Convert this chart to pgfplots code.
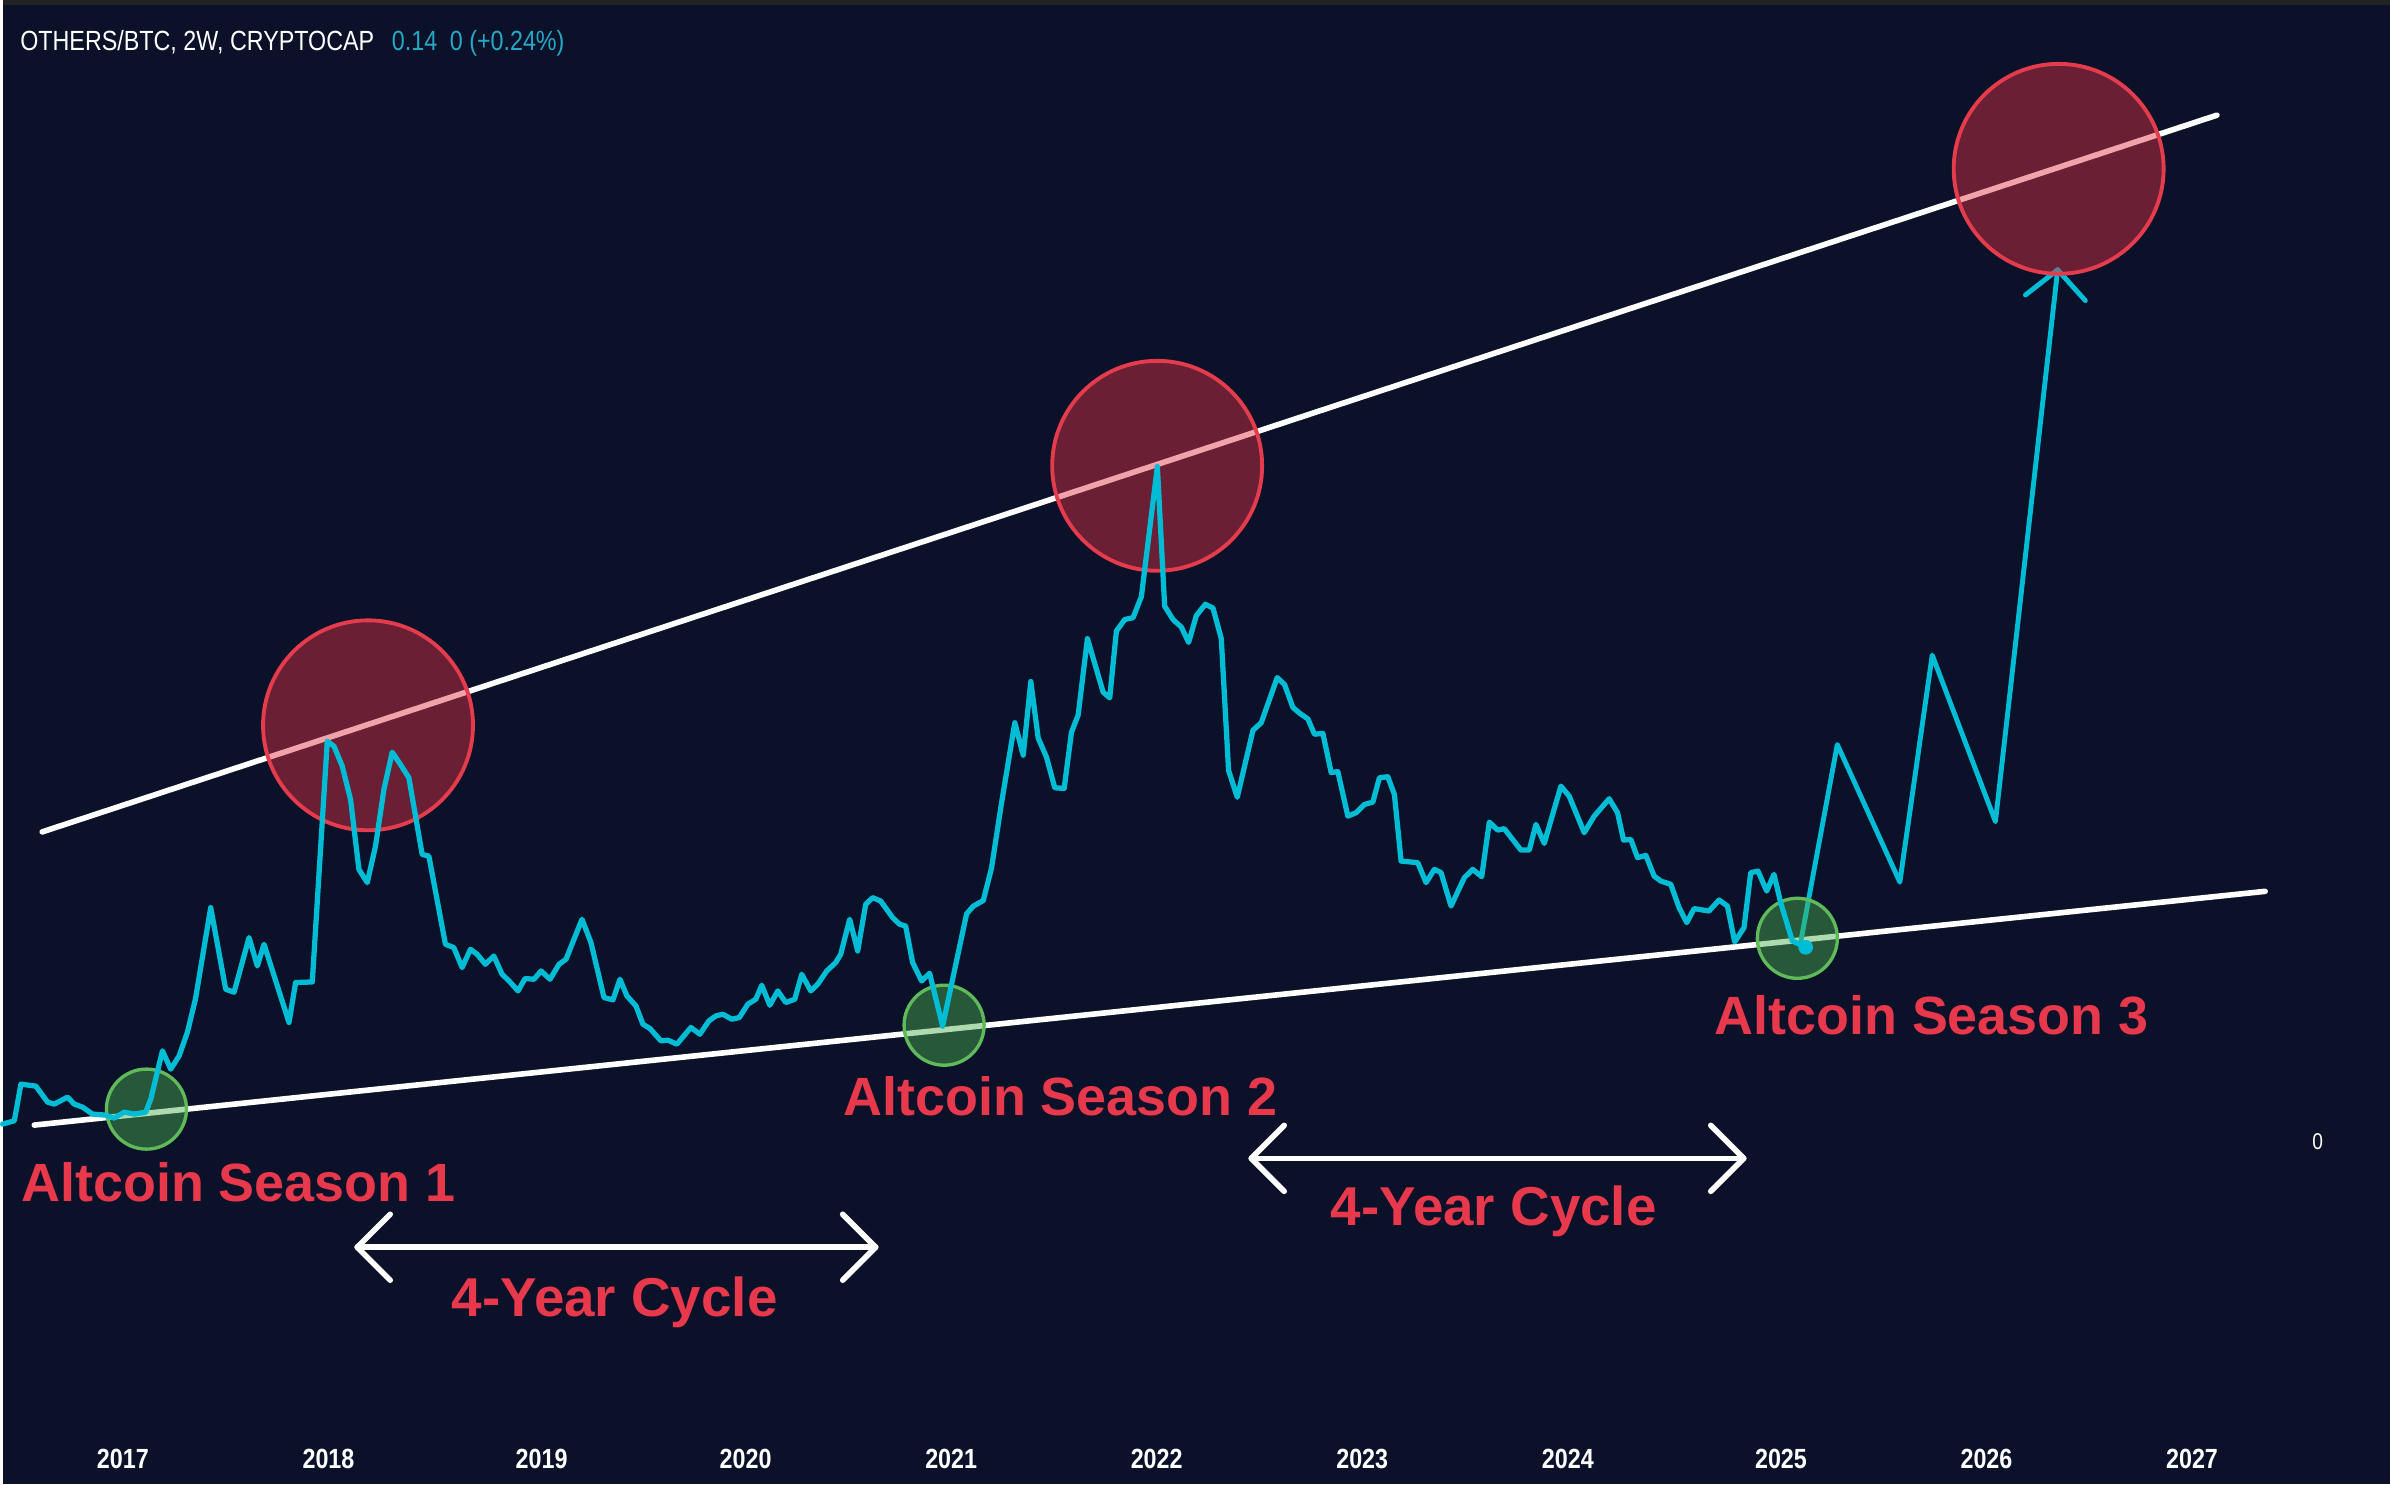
\documentclass[border=0pt]{standalone}
\usepackage{pgfplots}
\pgfplotsset{compat=1.18}
\usepackage{pgfplotstable}
\usepackage{fontspec}
\setmainfont{Liberation Sans}
\newfontfamily\hdrfont[FakeStretch=0.84]{Liberation Sans}
\definecolor{bgnavy}{RGB}{10,17,41}
\definecolor{topbar}{RGB}{34,34,38}
\definecolor{cyanl}{RGB}{0,188,212}
\definecolor{hdrcyan}{RGB}{38,168,198}
\definecolor{redtxt}{RGB}{232,56,76}
\definecolor{redring}{RGB}{228,60,76}
\definecolor{redfill}{RGB}{226,50,67}
\definecolor{greenring}{RGB}{96,186,90}
\definecolor{greenfill}{RGB}{76,175,80}

% main series: x = horizontal position, y = height (chart units)
\pgfplotstableread{
x y
0 360
11.7 363.3
18.3 400
33.3 398
45 382
51.7 380
65 387
71.7 380
80 377
90 370
103 369
111.7 366
121.7 372
131.7 370
143.3 372
148.3 385
160 433.3
168.3 415
176.7 428.3
185 452
193 485
208.3 576.7
223.3 495
231.7 492
246.7 546.7
255 518.3
261.7 540
286.7 461.7
293.3 501.7
310 502.3
325 743.3
331.7 738.3
340 718.3
348.3 685
356.7 615
365 601.7
373.3 638.3
381.7 695
390 732.3
398.3 720
406.7 706.7
420 630
426.7 628.3
443.3 540
451.7 536.7
460 516.7
468.3 535
475 530
483.3 520
491.7 528.3
500 510
507 503.3
516 493.3
523 505.7
532 505
539 513.3
548 505
557 520
564 525
580 565
589 541.7
602 486.7
611 484.3
618 505
625 488.3
634 478.3
641 460
648 455.7
659 443.3
666 444
675 440
689 456.7
698 450
707 463.3
714 468.3
721 470
730 465
737.5 466.7
746 480
754 485
760 499
768 479
776 493.3
784 481.7
793 485
800 510
809 493.3
816 500
825 513.3
834 521.7
839 530
848 565
856 533.3
864 580
871 586.7
879 583.3
891 566.7
898 560
904 558.3
911 521.7
920 503.3
928 511
941 458
965 570.4
971.7 578.1
981.7 583.8
990 616.4
1000 681.4
1013.3 761.8
1021.7 729.3
1029.3 803.1
1036.7 746.5
1045 727.4
1053.3 696.7
1062.7 696
1070 752.2
1076.7 769.5
1086 846
1101.7 792.4
1108.3 786.7
1115 853.6
1123.3 865.1
1131.7 867
1140 888.1
1156 1018.2
1163.3 878.5
1171.7 865.1
1180 857.5
1187.3 842.2
1195 869
1204 880.4
1211.7 876.6
1220 846
1227.3 714
1236 687.2
1251.7 754.2
1260 761.8
1276 807
1283.3 800.1
1291.7 777.1
1298.3 771.4
1306.7 765.6
1313.3 750.3
1321.7 751.1
1330 712
1336.7 712.8
1346.7 668.3
1355 671.7
1363.3 680
1371.7 682.3
1378.3 706.7
1386.7 707.7
1393.3 690
1400 623.3
1416.7 621.7
1425 601.7
1433.3 615
1440 611.7
1450 578.3
1463.3 606.7
1471.7 615
1480.7 607.7
1488.3 662.3
1496.7 654.3
1503.3 655.7
1520 634.3
1528.3 634.3
1535 660
1543.3 641
1560 698.3
1568.3 688.3
1583.3 651.7
1593.3 668.3
1608.3 685.7
1616.7 671.7
1622.7 644.3
1630 645
1636.7 626.7
1645 629
1653.3 608.3
1660 603.3
1670 600
1678.3 576.7
1686 561.7
1693.3 575.7
1708.3 573.3
1718.3 584.3
1726.7 578.3
1734 542.3
1743.3 556.7
1750 611.7
1757.3 613.3
1766 593.3
1773.3 610
1780 581.7
1791.7 543.3
1805 537
}\mainseries

% projected path
\pgfplotstableread{
x y
1800 542
1836.7 740
1899.3 602.2
1931.7 829.5
1995 662.8
2057.3 1215.2
}\projection

\begin{document}
\begin{tikzpicture}
\begin{axis}[
  set layers=standard,
  width=23.9cm, height=14.85cm, scale only axis,
  xmin=0, xmax=2390, ymin=0, ymax=1485,
  axis line style={draw=none},
  major tick length=0pt,
  ytick=\empty,
  xtick={120.4,326.2,539.6,743.8,949.6,1155.3,1361.1,1566.9,1780.3,1986.0,2191.8},
  xticklabels={2017,2018,2019,2020,2021,2022,2023,2024,2025,2026,2027},
  xticklabel style={font={\hdrfont\bfseries\fontsize{7.9}{9}\selectfont}, text=white, anchor=base, yshift=1.57mm},
  axis background/.style={fill=bgnavy},
  clip=false,
]
% top bar
\fill[topbar] (axis cs:0,1480) rectangle (axis cs:2390,1485);

% trend lines
\addplot[white, line width=1.6pt, line cap=round] coordinates {(39.6,652.5) (2216.7,1370)};
\addplot[white, line width=1.6pt, line cap=round] coordinates {(31.7,359) (2265,593)};

% projection
\addplot[cyanl, line width=1.4pt, line join=round, line cap=round] table[x=x,y=y] {\projection};
\addplot[cyanl, line width=1.4pt, line join=round, line cap=round] coordinates {(2025,1190) (2057.3,1215.2) (2085,1184.4)};

% highlight circles
\addplot[only marks, mark=*, mark size=29.9pt,
  mark options={draw=redring, line width=1.1pt, fill=redfill, fill opacity=0.45, draw opacity=1}]
  coordinates {(365.8,759.2) (1155.8,1019) (2058.3,1316.3)};
\addplot[only marks, mark=*, mark size=11.4pt,
  mark options={draw=greenring, line width=0.95pt, fill=greenfill, fill opacity=0.45, draw opacity=1}]
  coordinates {(144,375) (942.5,459) (1796.7,546)};

% main series (on top of the circles)
\addplot[on layer=axis foreground, cyanl, line width=1.5pt, line join=round, line cap=round] table[x=x,y=y] {\mainseries};
\addplot[on layer=axis foreground, only marks, mark=*, mark size=1.9pt, color=cyanl] coordinates {(1805,537)};

% 4-year cycle arrows
\addplot[white, line width=1.6pt, line cap=round, line join=round] coordinates {(388,269.7) (355,236.7) (388,203.7)};
\addplot[white, line width=1.6pt, line cap=round] coordinates {(355,236.7) (874,236.7)};
\addplot[white, line width=1.6pt, line cap=round, line join=round] coordinates {(841,269.7) (874,236.7) (841,203.7)};
\addplot[white, line width=1.6pt, line cap=round, line join=round] coordinates {(1283,358.7) (1250,325.7) (1283,292.7)};
\addplot[white, line width=1.6pt, line cap=round] coordinates {(1250,325.7) (1743,325.7)};
\addplot[white, line width=1.6pt, line cap=round, line join=round] coordinates {(1710,358.7) (1743,325.7) (1710,292.7)};

% texts
\node[anchor=base west, inner sep=0pt, text=white, font={\hdrfont\fontsize{7.9}{9}\selectfont}] at (axis cs:17,1435) {OTHERS/BTC, 2W, CRYPTOCAP};
\node[anchor=base west, inner sep=0pt, text=hdrcyan, font={\hdrfont\fontsize{7.9}{9}\selectfont}] at (axis cs:389,1435) {0.14};
\node[anchor=base west, inner sep=0pt, text=hdrcyan, font={\hdrfont\fontsize{7.9}{9}\selectfont}] at (axis cs:447,1435) {0 (+0.24\%)};

\node[text=white, inner sep=0pt, font={\hdrfont\fontsize{6.5}{8}\selectfont}] at (axis cs:2317.5,342.3) {0};

\node[anchor=base west, inner sep=0pt, text=redtxt, font={\bfseries\fontsize{15.35}{18}\selectfont}] at (axis cs:18,282.4) {Altcoin Season 1};
\node[anchor=base west, inner sep=0pt, text=redtxt, font={\bfseries\fontsize{15.35}{18}\selectfont}] at (axis cs:841,368.5) {Altcoin Season 2};
\node[anchor=base west, inner sep=0pt, text=redtxt, font={\bfseries\fontsize{15.35}{18}\selectfont}] at (axis cs:1713,450) {Altcoin Season 3};
\node[anchor=base west, inner sep=0pt, text=redtxt, font={\bfseries\fontsize{15.6}{18}\selectfont}] at (axis cs:449,167) {4-Year Cycle};
\node[anchor=base west, inner sep=0pt, text=redtxt, font={\bfseries\fontsize{15.6}{18}\selectfont}] at (axis cs:1329,258) {4-Year Cycle};
\end{axis}
\end{tikzpicture}
\end{document}
